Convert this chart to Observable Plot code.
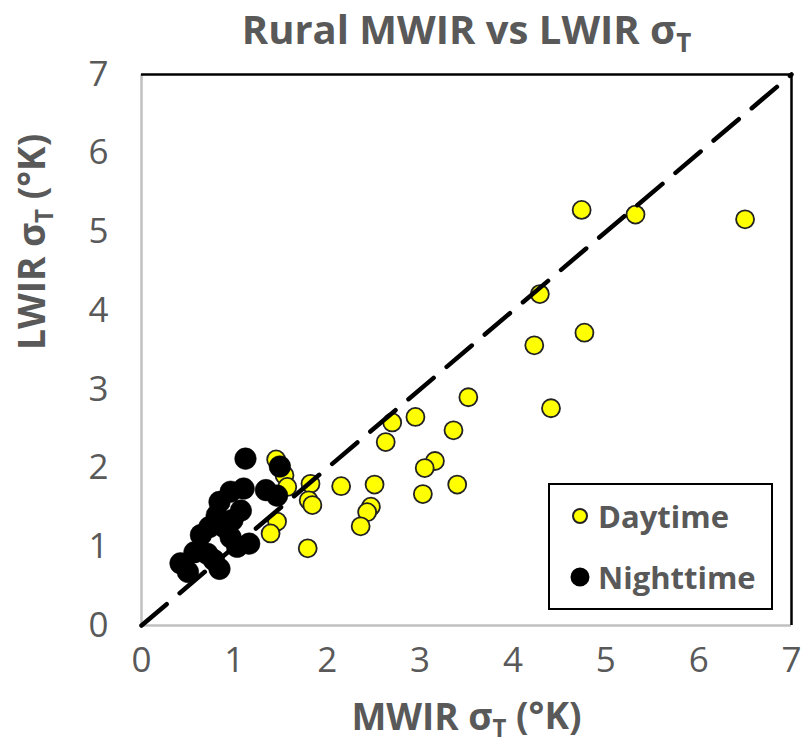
<!DOCTYPE html>
<html>
<head>
<meta charset="utf-8">
<script src="https://cdn.jsdelivr.net/npm/d3@7"></script>
<script src="https://cdn.jsdelivr.net/npm/@observablehq/plot@0.6"></script>
<style>
  html, body { margin: 0; padding: 0; background: #fff; }
  #wrap { position: relative; width: 801px; height: 754px; }
  .legend {
    position: absolute; left: 548px; top: 483px; width: 221px; height: 123px;
    border: 2px solid #000; background: #fff;
    font-family: "Open Sans", sans-serif; font-weight: 700; color: #595959; font-size: 31px;
  }
  .legend .row { position: absolute; left: 20px; display: flex; align-items: center; }
  .legend svg { margin-right: 8px; }
</style>
</head>
<body>
<div id="wrap"></div>
<script>
// Standard deviation of temperature, rural scenes: MWIR (x) vs LWIR (y), in °K
const dayMWIR = [6.50, 5.32, 4.74, 4.29, 4.77, 4.23, 4.41, 3.52, 2.95, 2.70, 3.36, 2.63, 3.16, 3.05, 2.51, 3.40, 2.15, 3.03, 2.47, 2.43, 2.36, 1.82, 1.80, 1.84, 1.79, 1.46, 1.39, 1.54, 1.57, 1.45];
const dayLWIR = [5.16, 5.22, 5.28, 4.21, 3.72, 3.56, 2.76, 2.90, 2.65, 2.58, 2.48, 2.33, 2.09, 2.00, 1.79, 1.79, 1.77, 1.67, 1.51, 1.44, 1.26, 1.80, 1.59, 1.53, 0.98, 1.32, 1.17, 1.91, 1.76, 2.11];

const nightMWIR = [1.12, 1.49, 1.10, 0.96, 0.84, 1.34, 1.46, 0.73, 0.89, 0.96, 1.16, 1.03, 0.57, 0.71, 0.42, 0.50, 0.84, 0.78, 0.81, 0.64, 0.98, 1.07];
const nightLWIR = [2.12, 2.02, 1.74, 1.70, 1.57, 1.72, 1.65, 1.25, 1.25, 1.12, 1.04, 1.00, 0.93, 0.91, 0.79, 0.68, 0.72, 0.83, 1.40, 1.15, 1.34, 1.46];

const axisTicks = [0, 1, 2, 3, 4, 5, 6, 7];
const oneToOne = [0, 7];

const titleText = "Rural MWIR vs LWIR σT";
const xLabelText = "MWIR σT (°K)";
const yLabelText = "LWIR σT (°K)";
const seriesNames = ["Daytime", "Nighttime"];

const day = dayMWIR.map((x, i) => ({x, y: dayLWIR[i]}));
const night = nightMWIR.map((x, i) => ({x, y: nightLWIR[i]}));
const diag = oneToOne.map(v => ({x: v, y: v}));

const gray = "#595959";
const font = "'Open Sans', sans-serif";

const chart = Plot.plot({
  width: 801,
  height: 754,
  marginLeft: 141,
  marginRight: 10,
  marginTop: 74,
  marginBottom: 129,
  style: {fontFamily: font, color: gray, background: "#fff", overflow: "visible"},
  x: {domain: [0, 7]},
  y: {domain: [0, 7]},
  marks: [
    Plot.axisX({ticks: axisTicks, tickFormat: d => String(d), tickSize: 0, tickPadding: 22, fontSize: 35, label: null, color: gray}),
    Plot.axisY({ticks: axisTicks, tickFormat: d => String(d), tickSize: 0, tickPadding: 33, fontSize: 35, label: null, color: gray}),
    Plot.ruleY([0], {stroke: "#c0c0c0", strokeWidth: 2.5}),
    Plot.ruleX([0], {stroke: "#c0c0c0", strokeWidth: 2.5}),
    Plot.ruleY([7], {stroke: "#000", strokeWidth: 2.5}),
    Plot.ruleX([7], {stroke: "#000", strokeWidth: 2.5}),
    Plot.dot(day, {x: "x", y: "y", r: 9, fill: "#ffff00", stroke: "#222", strokeWidth: 1.8}),
    Plot.dot(night, {x: "x", y: "y", r: 10.8, fill: "#000", stroke: "#000", strokeWidth: 0.5}),
    Plot.line(diag, {x: "x", y: "y", stroke: "#000", strokeWidth: 4.5, strokeDasharray: "33,17"}),
    Plot.text([titleText], {frameAnchor: "top", dy: -59, fontSize: 40, fontWeight: 700, fill: gray, text: d => d}),
    Plot.text([xLabelText], {frameAnchor: "bottom", dy: 104, fontSize: 37, fontWeight: 700, fill: gray, text: d => d}),
    Plot.text([yLabelText], {frameAnchor: "left", dx: -108, rotate: -90, fontSize: 37, fontWeight: 700, fill: gray, text: d => d})
  ]
});

// Turn the "T" after σ into a subscript
d3.select(chart).selectAll("text").each(function () {
  const el = d3.select(this);
  const s = this.textContent;
  const k = s.indexOf("σT");
  if (k < 0 || this.querySelector("tspan")) return;
  el.text(null);
  el.append("tspan").text(s.slice(0, k + 1));
  el.append("tspan").attr("dy", "0.3em").attr("font-size", "0.65em").text("T");
  const rest = s.slice(k + 2);
  if (rest) el.append("tspan").attr("dy", "-0.2em").text(rest);
});

const wrap = document.getElementById("wrap");
wrap.appendChild(chart);

// Legend box
const legend = document.createElement("div");
legend.className = "legend";
const rows = [
  {name: seriesNames[0], fill: "#ffff00", stroke: "#222", r: 7, top: 10},
  {name: seriesNames[1], fill: "#000", stroke: "#000", r: 8.5, top: 71}
];
for (const row of rows) {
  const div = document.createElement("div");
  div.className = "row";
  div.style.top = row.top + "px";
  div.innerHTML = `<svg width="20" height="20"><circle cx="10" cy="10" r="${row.r}" fill="${row.fill}" stroke="${row.stroke}" stroke-width="2"/></svg><span>${row.name}</span>`;
  legend.appendChild(div);
}
wrap.appendChild(legend);
</script>
</body>
</html>
